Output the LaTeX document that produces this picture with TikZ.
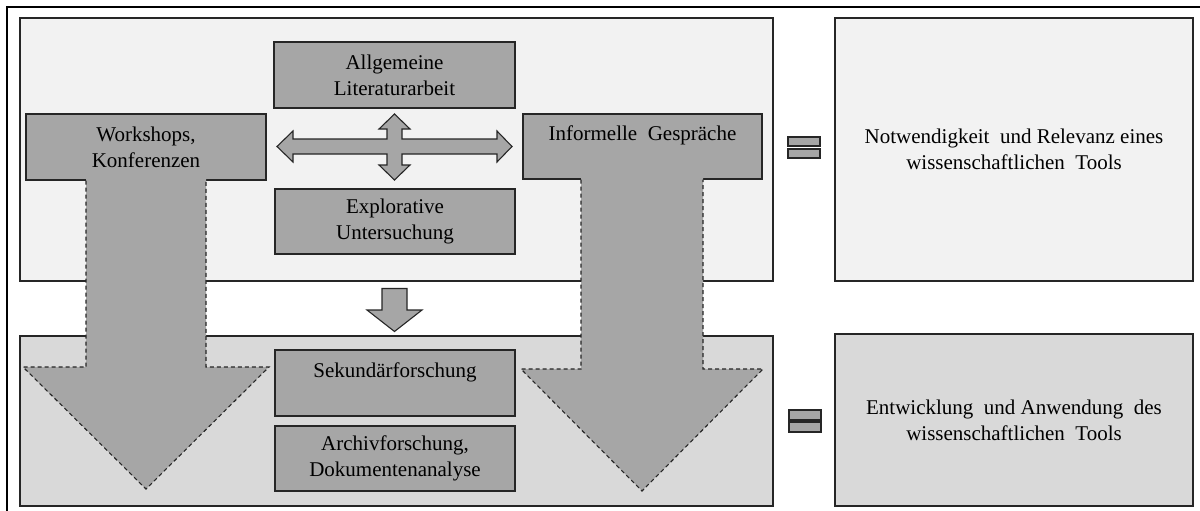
\documentclass[tikz,border=0pt]{standalone}
\usepackage{fontspec}
\setmainfont{Liberation Serif}
\definecolor{paneltop}{HTML}{F2F2F2}
\definecolor{panelbot}{HTML}{D9D9D9}
\definecolor{boxgray}{HTML}{A6A6A6}
\definecolor{edge}{HTML}{262626}
\begin{document}
\begin{tikzpicture}[x=1pt,y=-1pt,
  txt/.style={font=\fontsize{21}{26}\selectfont, align=center},
  panel/.style={draw=edge, line width=1.2pt, inner sep=0pt},
  stepbox/.style={draw=edge, line width=1.2pt, fill=boxgray, inner sep=0pt, txt},
  solidshape/.style={draw=edge, line width=1.1pt, fill=boxgray, line join=miter},
  dashedge/.style={draw=edge, line width=1.1pt, dash pattern=on 4pt off 3pt},
]
\useasboundingbox (0,0) rectangle (1200,511);

% outer frame (only top and left edges fall inside the page)
\draw[black, line width=2pt] (7,520) -- (7,7) -- (1210,7);

% background panels
\node[panel, fill=paneltop, minimum width=753pt, minimum height=263pt] (phase1) at (396.5,149.5) {};
\node[panel, fill=panelbot, minimum width=753pt, minimum height=170pt] (phase2) at (396.5,421) {};

% result panels on the right
\node[panel, fill=paneltop, minimum width=358pt, minimum height=263pt, txt] (res1) at (1014,149.5)
  {Notwendigkeit\ \ und Relevanz eines\\wissenschaftlichen\ \ Tools};
\node[panel, fill=panelbot, minimum width=358pt, minimum height=172pt, txt] (res2) at (1014,420)
  {Entwicklung\ \ und Anwendung\ \ des\\wissenschaftlichen\ \ Tools};

% equals signs
\foreach \y in {137,149} \draw[solidshape] (788,\y) rectangle (820,\y+9);
\foreach \y in {410,422} \draw[solidshape] (789,\y) rectangle (821,\y+10);

% big T-shaped arrows: header box, then dashed shaft and head
\node[stepbox, minimum width=240pt, minimum height=66pt] (work) at (146,147)
  {Workshops,\\Konferenzen};
\fill[boxgray] (86,179) -- (86,367) -- (23,367) -- (146,489) -- (269,367) -- (206,367) -- (206,179) -- cycle;
\draw[dashedge] (86,180.5) -- (86,367) -- (23,367) -- (146,489) -- (269,367) -- (206,367) -- (206,180.5);

\node[stepbox, minimum width=239pt, minimum height=65pt] (info) at (642.5,146.5)
  {Informelle\ \ Gespräche\\\mbox{}};
\fill[boxgray] (581,178) -- (581,369) -- (521,369) -- (642,491) -- (763,369) -- (703,369) -- (703,178) -- cycle;
\draw[dashedge] (581,179.5) -- (581,369) -- (521,369) -- (642,491) -- (763,369) -- (703,369) -- (703,179.5);

% central method boxes
\node[stepbox, minimum width=241pt, minimum height=66pt] (lit) at (394.5,75)
  {Allgemeine\\Literaturarbeit};
\node[stepbox, minimum width=240pt, minimum height=65pt] (expl) at (395,221.5)
  {Explorative\\Untersuchung};
\node[stepbox, minimum width=240pt, minimum height=66pt] (sek) at (395,383)
  {Sekundärforschung\\\mbox{}};
\node[stepbox, minimum width=240pt, minimum height=65pt] (arch) at (395,458.5)
  {Archivforschung,\\Dokumentenanalyse};

% four-way arrow between the method boxes
\draw[solidshape] (277,146.5) -- (293,131) -- (293,139) -- (387,139) -- (387,129) -- (379,129)
  -- (394.5,114) -- (410,129) -- (402,129) -- (402,139) -- (497,139) -- (497,131)
  -- (512,146.5) -- (497,162) -- (497,154) -- (402,154) -- (402,165) -- (410,165)
  -- (394.5,180) -- (379,165) -- (387,165) -- (387,154) -- (293,154) -- (293,162) -- cycle;

% transition arrow from phase 1 to phase 2
\draw[solidshape] (382,288.5) -- (407,288.5) -- (407,310) -- (422,310) -- (394.5,331.5)
  -- (367,310) -- (382,310) -- cycle;
\end{tikzpicture}
\end{document}
